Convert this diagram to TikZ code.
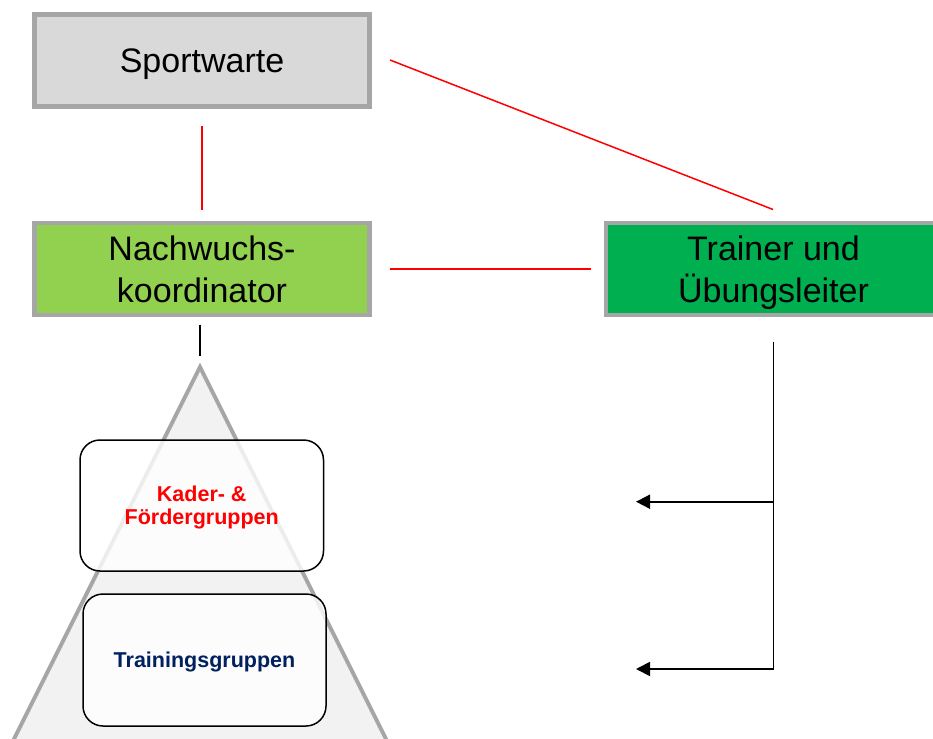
\documentclass[tikz,border=0pt]{standalone}
\usepackage{fontspec}
\setmainfont{Liberation Sans}
\usetikzlibrary{arrows.meta,calc}
\definecolor{boxgray}{HTML}{A6A6A6}
\definecolor{fillgray}{HTML}{D9D9D9}
\definecolor{lightgreen}{HTML}{92D050}
\definecolor{darkgreen}{HTML}{00B050}
\definecolor{trifill}{HTML}{F2F2F2}
\definecolor{navy}{HTML}{002060}
\definecolor{linered}{HTML}{FF0000}
\tikzset{
  rolebox/.style={draw=boxgray, line width=4.5pt, minimum width=335pt, minimum height=92pt,
    inner sep=0pt, outer sep=0pt, align=center, text depth=0pt, font=\fontsize{34}{42}\selectfont},
  groupbox/.style={draw=black, line width=1.5pt, rounded corners=20pt, fill=white, fill opacity=0.8,
    text opacity=1, inner sep=0pt, outer sep=0pt, align=center, text depth=0pt, font=\fontsize{21.5}{23}\selectfont\bfseries},
  redline/.style={draw=linered, line width=1.5pt},
  blackarrow/.style={draw=black, line width=1.8pt, -{Triangle[length=14pt,width=14pt]}},
}
\begin{document}
\begin{tikzpicture}[x=1pt,y=-1pt]
\useasboundingbox (0,0) rectangle (933,738);
\clip (0,0) rectangle (933,738);
% pyramid
\coordinate (apex) at (200,367);
\draw[draw=boxgray, fill=trifill, line width=4pt, line join=miter] (apex) -- (416.5,800) -- (-16.5,800) -- cycle;
% role boxes
\node[rolebox, fill=fillgray] (sport) at (202,60.5) {Sportwarte};
\node[rolebox, fill=lightgreen] (nach) at (202,269) {Nachwuchs-\\koordinator};
\node[rolebox, fill=darkgreen] (train) at (773.5,269) {Trainer und\\Übungsleiter};
% group boxes
\node[groupbox, minimum width=243.5pt, minimum height=131pt, text=linered] (kader) at (201.75,505.5) {Kader- \&\\Fördergruppen};
\node[groupbox, minimum width=243pt, minimum height=132pt, text=navy] (tgr) at (204.5,660) {Trainingsgruppen};
% red connectors
\draw[redline, shorten <=19.5pt, shorten >=13.5pt] (sport.south) -- (nach.north);
\draw[redline] ($(sport.east)+(20.5,-0.5)$) -- ($(train.north)+(-0.5,-13.5)$);
\draw[redline, shorten <=20.5pt, shorten >=15.5pt] (nach.east) -- (train.west);
% black connectors
\draw[line width=1.8pt, shorten <=9.5pt, shorten >=11pt] (nach.south -| apex) -- (apex);
\coordinate (a1) at (636,501.7);
\coordinate (a2) at (636,669);
\draw[blackarrow, shorten <=26.5pt] (train.south) |- (a2);
\draw[blackarrow] (train.south |- a1) -- (a1);
\end{tikzpicture}
\end{document}
